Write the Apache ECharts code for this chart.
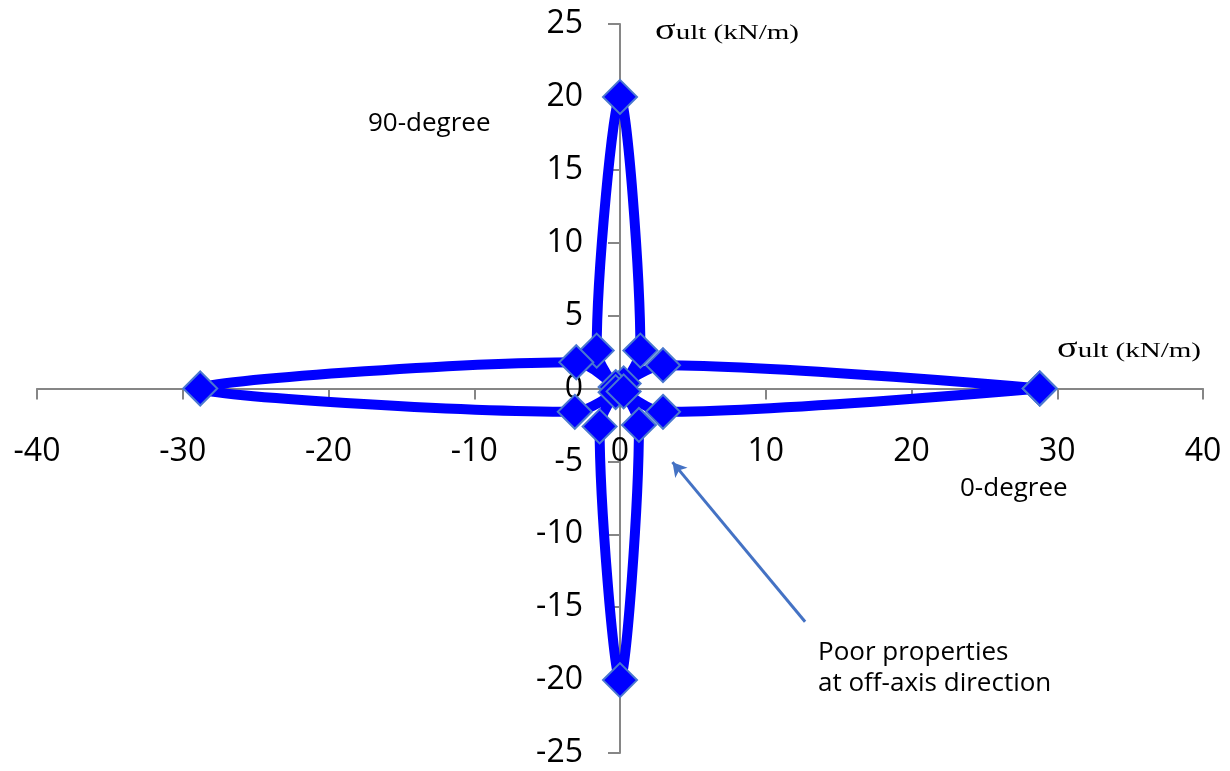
<!DOCTYPE html>
<html>
<head>
<meta charset="utf-8">
<script src="https://cdn.jsdelivr.net/npm/echarts@6/dist/echarts.min.js"></script>
<style>
html,body{margin:0;padding:0;background:#fff;}
#chart{width:1230px;height:771px;}
</style>
</head>
<body>
<div id="chart"></div>
<script>
// Closed strength envelope, traced in angular order (0°, 30°, 45°, 60°, 90°, ...)
const xValues = [28.8, 2.95, 0.25, 1.4, 0, -1.6, -0.3, -3.0, -28.8, -3.1, -0.3, -1.4, 0, 1.3, 0.25, 2.95, 28.8];
const yValues = [0, 1.6, 0.35, 2.6, 20, 2.6, 0.1, 1.8, 0, -1.6, -0.25, -2.6, -20, -2.5, -0.2, -1.6, 0];
const xTicks = [-40, -30, -20, -10, 0, 10, 20, 30, 40];
const yTicks = [-25, -20, -15, -10, -5, 0, 5, 10, 15, 20, 25];
const arrowFrom = [12.7, -16.0];
const arrowTo = [3.6, -5.05];

const points = xValues.map((x, i) => [x, yValues[i]]);

const W = 1230, H = 771;
const G = {left: 37, right: 27, top: 24, bottom: 18};
const gridW = W - G.left - G.right, gridH = H - G.top - G.bottom;
const xMin = xTicks[0], xMax = xTicks[xTicks.length - 1];
const yMin = yTicks[0], yMax = yTicks[yTicks.length - 1];
// shift axes so they cross at the origin (labels move with them)
const xAxisOffset = -gridH * (0 - yMin) / (yMax - yMin);
const yAxisOffset = -gridW * (0 - xMin) / (xMax - xMin);

const chart = echarts.init(document.getElementById('chart'), null, {renderer: 'canvas'});
const labelFont = {fontFamily: 'Open Sans', fontSize: 32, color: '#000'};
const axisLineStyle = {color: '#868686', width: 2};
const nameRich = {
  s: {fontFamily: 'Liberation Serif', fontSize: 29, fill: '#000', verticalAlign: 'bottom'},
  u: {fontFamily: 'Liberation Serif', fontSize: 22, fill: '#000', verticalAlign: 'bottom', padding: [0, 0, 2, 0]}
};

chart.setOption({
  animation: false,
  backgroundColor: '#fff',
  grid: {left: G.left, right: G.right, top: G.top, bottom: G.bottom, containLabel: false, outerBoundsMode: 'none'},
  xAxis: {
    type: 'value',
    min: xMin, max: xMax, interval: 10,
    offset: xAxisOffset,
    axisLine: {onZero: false, lineStyle: axisLineStyle},
    axisTick: {show: true, length: 11, lineStyle: axisLineStyle},
    splitLine: {show: false},
    axisLabel: Object.assign({margin: 47}, labelFont)
  },
  yAxis: {
    type: 'value',
    min: yMin, max: yMax, interval: 5,
    offset: yAxisOffset,
    axisLine: {onZero: false, lineStyle: axisLineStyle},
    axisTick: {show: true, length: 12, lineStyle: axisLineStyle},
    splitLine: {show: false},
    axisLabel: Object.assign({margin: 37}, labelFont)
  },
  series: [{
    type: 'line',
    data: points,
    smooth: 0.3,
    lineStyle: {color: '#0000FF', width: 10},
    symbol: 'diamond',
    symbolSize: 34,
    itemStyle: {color: '#0000FF', borderColor: '#4a78d0', borderWidth: 2},
    z: 3
  }, {
    type: 'line',
    data: [],
    markLine: {
      silent: true,
      symbol: ['none', 'arrow'],
      symbolSize: [12, 14],
      label: {show: false},
      lineStyle: {color: '#4472C4', width: 3, type: 'solid'},
      data: [[{coord: arrowFrom}, {coord: arrowTo}]]
    }
  }],
  graphic: [
    {type: 'text', left: 368, top: 111, style: {text: '90-degree', font: '26px "Open Sans"', fill: '#000'}},
    {type: 'text', left: 960, top: 476, style: {text: '0-degree', font: '26px "Open Sans"', fill: '#000'}},
    {type: 'text', left: 818, top: 640, style: {text: 'Poor properties', font: '26px "Open Sans"', fill: '#000'}},
    {type: 'text', left: 818, top: 671, style: {text: 'at off-axis direction', font: '26px "Open Sans"', fill: '#000'}},
    {type: 'text', x: 655, y: 17, scaleX: 1.32, style: {text: '{s|σ}{u|ult (kN/m)}', rich: nameRich}},
    {type: 'text', x: 1057, y: 335, scaleX: 1.32, style: {text: '{s|σ}{u|ult (kN/m)}', rich: nameRich}}
  ]
});
</script>
</body>
</html>
